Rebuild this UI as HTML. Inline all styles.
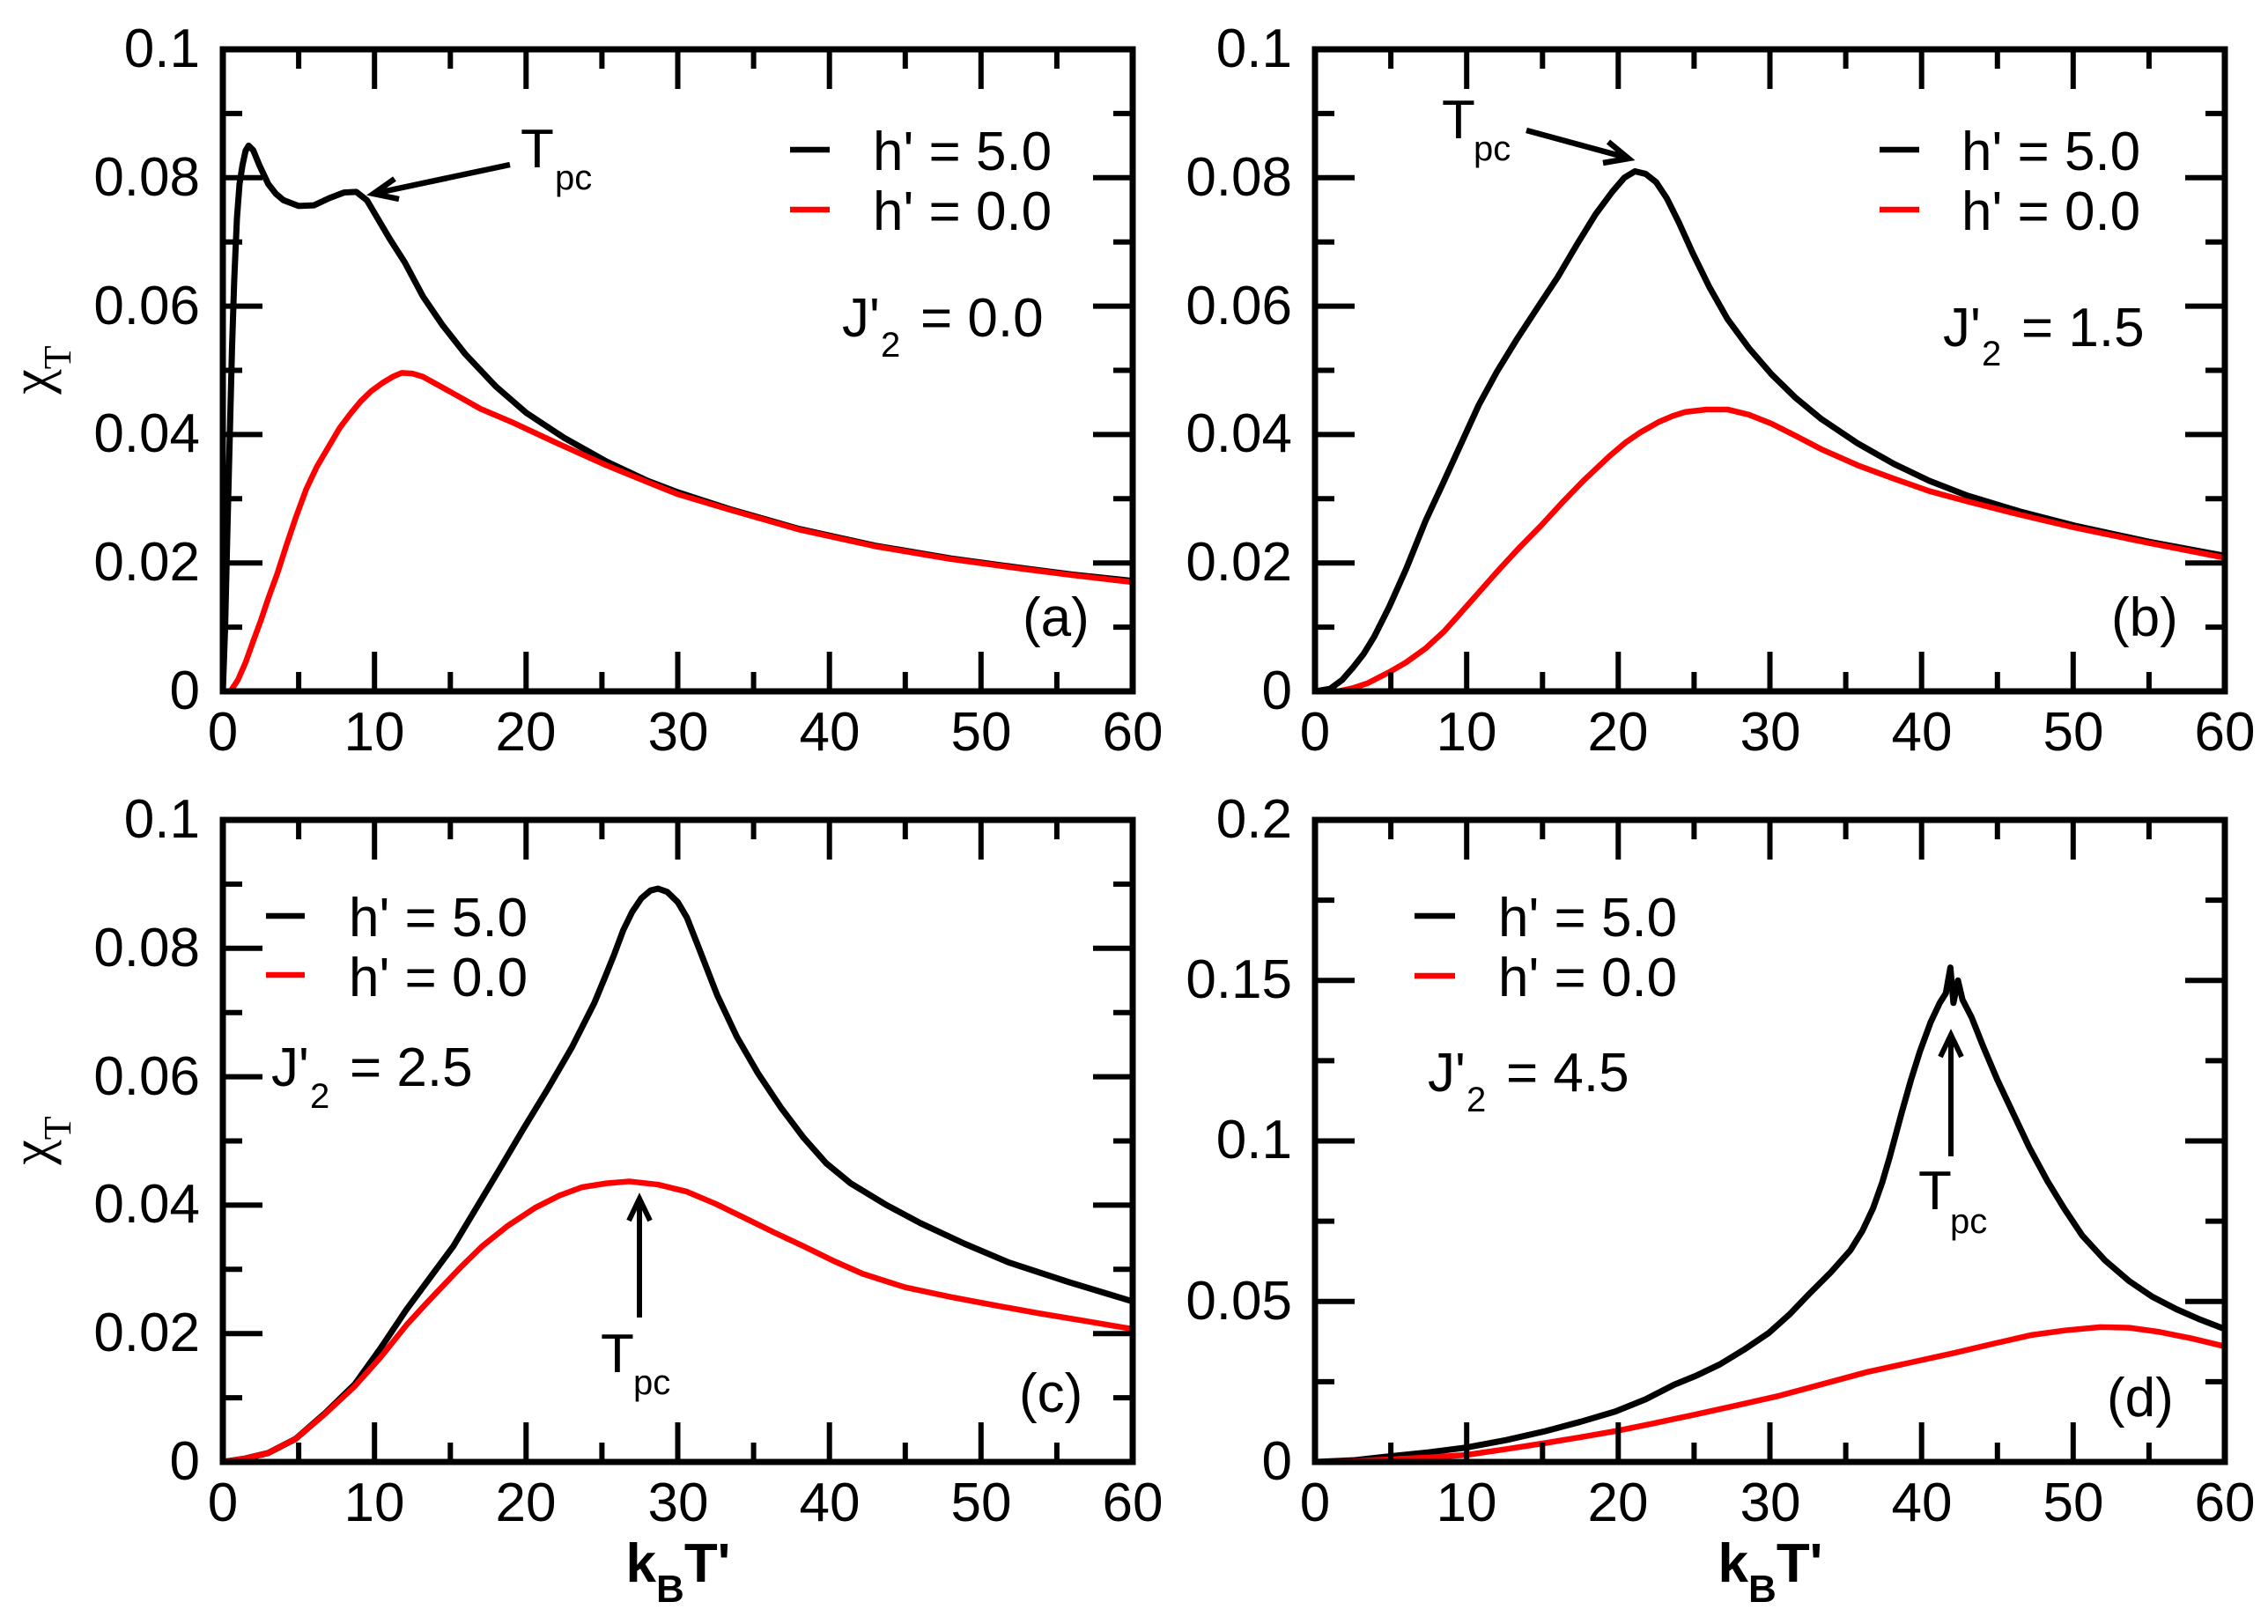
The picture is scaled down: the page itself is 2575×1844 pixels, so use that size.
<!DOCTYPE html>
<html>
<head>
<meta charset="utf-8">
<style>
  html,body{margin:0;padding:0;background:#fff;}
  svg{display:block;}
  text{font-family:"Liberation Sans",Arial,sans-serif;fill:#000;}
</style>
</head>
<body>
<svg xmlns="http://www.w3.org/2000/svg" width="2575" height="1844" viewBox="0 0 2575 1844">
<rect x="0" y="0" width="2575" height="1844" fill="#fff"/>
<defs>
  <clipPath id="cA"><rect x="253" y="56" width="1033" height="729"/></clipPath>
  <clipPath id="cB"><rect x="1493" y="56" width="1033" height="729"/></clipPath>
  <clipPath id="cC"><rect x="253" y="931" width="1033" height="729"/></clipPath>
  <clipPath id="cD"><rect x="1493" y="931" width="1033" height="729"/></clipPath>
  <path id="xt" fill="none" stroke="#000" stroke-width="6" d="M339.1 785V763M425.2 785V740M511.3 785V763M597.3 785V740M683.4 785V763M769.5 785V740M855.6 785V763M941.7 785V740M1027.8 785V763M1113.8 785V740M1199.9 785V763M339.1 56V78M425.2 56V101M511.3 56V78M597.3 56V101M683.4 56V78M769.5 56V101M855.6 56V78M941.7 56V101M1027.8 56V78M1113.8 56V101M1199.9 56V78"/>
  <path id="yt" fill="none" stroke="#000" stroke-width="6" d="M253 712.1H275M253 639.2H298M253 566.3H275M253 493.4H298M253 420.5H275M253 347.6H298M253 274.7H275M253 201.8H298M253 128.9H275M1286 712.1H1264M1286 639.2H1241M1286 566.3H1264M1286 493.4H1241M1286 420.5H1264M1286 347.6H1241M1286 274.7H1264M1286 201.8H1241M1286 128.9H1264"/>
  <path id="ytd" fill="none" stroke="#000" stroke-width="6" d="M253 693.9H275M253 602.75H298M253 511.6H275M253 420.5H298M253 329.4H275M253 238.25H298M253 147.1H275M1286 693.9H1264M1286 602.75H1241M1286 511.6H1264M1286 420.5H1241M1286 329.4H1264M1286 238.25H1241M1286 147.1H1264"/>
</defs>

<!-- ================= CURVES ================= -->
<g fill="none" stroke-linejoin="round" stroke-linecap="round">
  <!-- (a) -->
  <g clip-path="url(#cA)">
    <polyline stroke="#000" stroke-width="7" vector-effect="non-scaling-stroke" transform="translate(253 785) scale(17.217 -7290)"
      points="0,0 0.15,0.01 0.3,0.025 0.46,0.04 0.6,0.053 0.75,0.064 0.93,0.0737 1.1,0.079 1.3,0.082 1.5,0.0842 1.7,0.085 2,0.0843 2.4,0.082 3,0.079 3.5,0.0775 4,0.0765 5,0.0756 6,0.0757 7,0.0768 8,0.0777 8.8,0.0778 9.5,0.0765 10,0.0745 11,0.0705 12,0.0668 13.2,0.0615 14.5,0.057 16,0.0525 18,0.0475 20,0.0434 22.5,0.0395 25.3,0.0358 28,0.0328 30,0.031 33.4,0.0284 38,0.0253 43,0.0227 48,0.0207 53,0.0191 56,0.0182 60,0.0172"/>
    <polyline stroke="#ff0000" stroke-width="6.5" vector-effect="non-scaling-stroke" transform="translate(253 785) scale(17.217 -7290)"
      points="0,0 0.5,0 1,0.0018 1.5,0.0045 2,0.0078 2.5,0.011 3,0.0145 3.6,0.0184 4.2,0.0228 4.8,0.027 5.5,0.0315 6.2,0.035 7,0.0382 7.7,0.041 8.4,0.0432 9.1,0.0452 9.8,0.0468 10.5,0.048 11.2,0.049 11.8,0.0496 12.5,0.0495 13.2,0.049 14.2,0.0477 15.5,0.046 17,0.044 19,0.042 22,0.0387 25.3,0.0352 28,0.0326 30,0.0307 33.4,0.0283 38,0.0252 43,0.0226 48,0.0206 53,0.019 56,0.0181 60,0.017"/>
  </g>
  <!-- (b) -->
  <g clip-path="url(#cB)">
    <polyline stroke="#000" stroke-width="7" vector-effect="non-scaling-stroke" transform="translate(1493 785) scale(17.217 -7290)"
      points="0,0 1,0.0004 1.8,0.0018 2.5,0.0037 3.2,0.0058 3.9,0.0085 4.9,0.0132 6,0.019 7.3,0.0266 8.5,0.0327 9.6,0.0384 10.8,0.0446 12,0.0498 13.3,0.0548 14.6,0.0595 16,0.0645 17.3,0.0697 18.5,0.0743 19.6,0.0778 20.4,0.08 21.1,0.081 21.8,0.0806 22.5,0.0793 23.2,0.0768 24,0.073 24.9,0.0683 26,0.063 27.2,0.058 28.6,0.0535 30.1,0.0494 31.7,0.0457 33.4,0.0424 35.8,0.0386 38.2,0.0354 40.5,0.0328 43,0.0305 46.5,0.028 50.1,0.0258 55,0.0233 60,0.0211"/>
    <polyline stroke="#ff0000" stroke-width="6.5" vector-effect="non-scaling-stroke" transform="translate(1493 785) scale(17.217 -7290)"
      points="0,0 1.5,0 2.5,0.0005 3.5,0.0013 4.9,0.003 6,0.0045 7.3,0.0067 8.5,0.0093 9.6,0.0122 10.8,0.0154 12,0.0186 13.4,0.0222 14.9,0.0258 16.3,0.0294 17.7,0.0328 19.4,0.0366 20.5,0.0388 21.5,0.0404 22.7,0.042 23.6,0.0429 24.4,0.0435 25.8,0.0439 27.2,0.0439 28.6,0.0431 30.1,0.0417 31.7,0.0398 33.4,0.0377 35.8,0.0352 38.2,0.0331 40.5,0.0312 43,0.0296 46.5,0.0275 50.1,0.0255 55,0.0231 60,0.0208"/>
  </g>
  <!-- (c) -->
  <g clip-path="url(#cC)">
    <polyline stroke="#000" stroke-width="7" vector-effect="non-scaling-stroke" transform="translate(253 1660) scale(17.217 -7290)"
      points="0,0 1.4,0.0005 3,0.0014 4.8,0.0036 6.7,0.0075 8.7,0.0121 10.4,0.0177 12.1,0.0237 13.6,0.0285 15.2,0.0336 16.7,0.0395 18.3,0.0458 19.8,0.0518 21.4,0.058 23,0.0645 24.5,0.0715 25.2,0.0755 25.8,0.079 26.4,0.0828 27,0.0857 27.6,0.0878 28.2,0.089 28.7,0.0893 29.3,0.0888 30,0.0872 30.6,0.0848 31.4,0.08 32.6,0.0727 33.9,0.0662 35.3,0.0605 36.8,0.0552 38.3,0.0505 39.8,0.0465 41.4,0.0434 43.7,0.0401 46,0.0372 48.9,0.034 51.8,0.0311 55.8,0.028 60,0.025"/>
    <polyline stroke="#ff0000" stroke-width="6.5" vector-effect="non-scaling-stroke" transform="translate(253 1660) scale(17.217 -7290)"
      points="0,0 1.4,0.0005 3,0.0014 4.8,0.0036 6.7,0.0074 8.7,0.0118 10.4,0.0163 12.1,0.0213 13.3,0.0244 14.5,0.0274 15.8,0.0306 17.1,0.0336 18.8,0.0368 20.6,0.0396 22.2,0.0415 23.7,0.0428 25.3,0.0434 26.8,0.0437 28.7,0.0432 30.6,0.0421 32.5,0.0402 34.5,0.0379 36.4,0.0357 38.3,0.0336 40.2,0.0314 42.2,0.0293 45,0.0272 48,0.0257 50.9,0.0244 53.7,0.0232 57,0.0219 60,0.0207"/>
  </g>
  <!-- (d) -->
  <g clip-path="url(#cD)">
    <polyline stroke="#000" stroke-width="7" vector-effect="non-scaling-stroke" transform="translate(1493 1660) scale(17.217 -3645)"
      points="0,0 2.5,0.0005 4.8,0.0017 7.5,0.003 10,0.0045 12.6,0.0068 15.2,0.0096 17.5,0.0125 19.8,0.0157 21.8,0.0195 23.7,0.0241 25.2,0.027 26.7,0.0304 28.3,0.035 29.9,0.0401 31.3,0.046 32.6,0.0524 34,0.059 35.3,0.0659 36.1,0.072 36.8,0.079 37.4,0.087 37.9,0.095 38.3,0.102 38.7,0.109 39.3,0.119 39.9,0.128 40.6,0.137 41.2,0.143 41.6,0.146 41.9,0.154 42.1,0.143 42.4,0.15 42.7,0.144 43.3,0.1385 44.1,0.129 45,0.119 46,0.109 47.1,0.098 48.3,0.0875 49.4,0.079 50.6,0.0705 52.1,0.0628 53.7,0.0563 55.2,0.0515 56.8,0.0476 58.4,0.0443 60,0.0414"/>
    <polyline stroke="#ff0000" stroke-width="6.5" vector-effect="non-scaling-stroke" transform="translate(1493 1660) scale(17.217 -3645)"
      points="0,0 2.5,0.0002 4.8,0.0008 7.5,0.0014 10,0.0022 12.6,0.004 15.2,0.0059 17.5,0.0077 19.8,0.0096 22.3,0.012 24.8,0.0145 27.7,0.0175 30.6,0.0206 33.5,0.0243 36.4,0.028 39.3,0.031 42.2,0.034 44.7,0.0368 47.2,0.0395 49.5,0.041 51.8,0.042 53.7,0.0418 55.7,0.0405 57.8,0.0385 60,0.036"/>
  </g>
</g>

<!-- ================= FRAMES & TICKS ================= -->
<g fill="none" stroke="#000" stroke-width="7">
  <rect x="253" y="56" width="1033" height="729"/>
  <rect x="1493" y="56" width="1033" height="729"/>
  <rect x="253" y="931" width="1033" height="729"/>
  <rect x="1493" y="931" width="1033" height="729"/>
</g>
<use href="#xt"/><use href="#yt"/>
<use href="#xt" transform="translate(1240 0)"/><use href="#yt" transform="translate(1240 0)"/>
<use href="#xt" transform="translate(0 875)"/><use href="#yt" transform="translate(0 875)"/>
<use href="#xt" transform="translate(1240 875)"/><use href="#ytd" transform="translate(1240 875)"/>

<!-- ================= TICK LABELS ================= -->
<g font-size="62" text-anchor="end">
  <text x="227" y="805">0</text><text x="227" y="659">0.02</text><text x="227" y="513">0.04</text><text x="227" y="368">0.06</text><text x="227" y="222">0.08</text><text x="227" y="76">0.1</text>
  <text x="1467" y="805">0</text><text x="1467" y="659">0.02</text><text x="1467" y="513">0.04</text><text x="1467" y="368">0.06</text><text x="1467" y="222">0.08</text><text x="1467" y="76">0.1</text>
  <text x="227" y="1680">0</text><text x="227" y="1534">0.02</text><text x="227" y="1388">0.04</text><text x="227" y="1243">0.06</text><text x="227" y="1097">0.08</text><text x="227" y="951">0.1</text>
  <text x="1467" y="1680">0</text><text x="1467" y="1498">0.05</text><text x="1467" y="1315">0.1</text><text x="1467" y="1133">0.15</text><text x="1467" y="951">0.2</text>
</g>
<g font-size="62" text-anchor="middle">
  <text x="253" y="852">0</text><text x="425" y="852">10</text><text x="597" y="852">20</text><text x="770" y="852">30</text><text x="942" y="852">40</text><text x="1114" y="852">50</text><text x="1286" y="852">60</text>
  <text x="1493" y="852">0</text><text x="1665" y="852">10</text><text x="1837" y="852">20</text><text x="2010" y="852">30</text><text x="2182" y="852">40</text><text x="2354" y="852">50</text><text x="2526" y="852">60</text>
  <text x="253" y="1727">0</text><text x="425" y="1727">10</text><text x="597" y="1727">20</text><text x="770" y="1727">30</text><text x="942" y="1727">40</text><text x="1114" y="1727">50</text><text x="1286" y="1727">60</text>
  <text x="1493" y="1727">0</text><text x="1665" y="1727">10</text><text x="1837" y="1727">20</text><text x="2010" y="1727">30</text><text x="2182" y="1727">40</text><text x="2354" y="1727">50</text><text x="2526" y="1727">60</text>
</g>

<!-- ================= AXIS TITLES ================= -->
<text transform="translate(56 420) rotate(-90)" text-anchor="middle" font-size="64" style="font-family:'Liberation Serif','DejaVu Serif',serif">χ<tspan font-size="44" dy="24">T</tspan></text>
<text transform="translate(56 1295) rotate(-90)" text-anchor="middle" font-size="64" style="font-family:'Liberation Serif','DejaVu Serif',serif">χ<tspan font-size="44" dy="24">T</tspan></text>
<text x="770" y="1796" text-anchor="middle" font-size="62" font-weight="bold">k<tspan font-size="44" dy="23">B</tspan><tspan dy="-23">T'</tspan></text>
<text x="2010" y="1796" text-anchor="middle" font-size="62" font-weight="bold">k<tspan font-size="44" dy="23">B</tspan><tspan dy="-23">T'</tspan></text>

<!-- ================= LEGENDS ================= -->
<g stroke-width="6.5">
  <line x1="897" y1="170" x2="942" y2="170" stroke="#000"/>
  <line x1="897" y1="238" x2="942" y2="238" stroke="#ff0000"/>
  <line x1="2134" y1="170" x2="2179" y2="170" stroke="#000"/>
  <line x1="2134" y1="238" x2="2179" y2="238" stroke="#ff0000"/>
  <line x1="302" y1="1040" x2="346" y2="1040" stroke="#000"/>
  <line x1="302" y1="1107" x2="346" y2="1107" stroke="#ff0000"/>
  <line x1="1606" y1="1040" x2="1652" y2="1040" stroke="#000"/>
  <line x1="1606" y1="1108" x2="1652" y2="1108" stroke="#ff0000"/>
</g>
<g font-size="62">
  <text x="991" y="193">h' = 5.0</text><text x="991" y="261">h' = 0.0</text>
  <text x="2227" y="193">h' = 5.0</text><text x="2227" y="261">h' = 0.0</text>
  <text x="396" y="1063">h' = 5.0</text><text x="396" y="1131">h' = 0.0</text>
  <text x="1701" y="1063">h' = 5.0</text><text x="1701" y="1131">h' = 0.0</text>
</g>

<!-- ================= J'2 LABELS ================= -->
<g font-size="62">
  <text x="956" y="382">J'</text><text x="1000" y="405" font-size="40">2</text><text x="1045" y="382">= 0.0</text>
  <text x="2206" y="393">J'</text><text x="2250" y="415" font-size="40">2</text><text x="2295" y="393">= 1.5</text>
  <text x="308" y="1233">J'</text><text x="352" y="1258" font-size="40">2</text><text x="397" y="1233">= 2.5</text>
  <text x="1621" y="1239">J'</text><text x="1665" y="1262" font-size="40">2</text><text x="1710" y="1239">= 4.5</text>
</g>

<!-- ================= Tpc ANNOTATIONS ================= -->
<g font-size="62">
  <text x="591" y="190">T</text><text x="630" y="215" font-size="40">pc</text>
  <text x="1637" y="157">T</text><text x="1673" y="182" font-size="40">pc</text>
  <text x="682" y="1558">T</text><text x="719" y="1583" font-size="40">pc</text>
  <text x="2178" y="1373">T</text><text x="2214" y="1400" font-size="40">pc</text>
</g>
<g fill="none" stroke="#000" stroke-linecap="butt" stroke-linejoin="miter">
  <line x1="579" y1="187" x2="426" y2="219.5" stroke-width="6.5"/>
  <polyline points="448,203 424,220 453,226" stroke-width="6.5"/>
  <line x1="1733" y1="148" x2="1847" y2="179" stroke-width="6.5"/>
  <polyline points="1826,161 1849,180 1820,185" stroke-width="6.5"/>
  <line x1="726" y1="1496" x2="726" y2="1363" stroke-width="6"/>
  <polyline points="714,1386 726,1361 738,1386" stroke-width="6"/>
  <line x1="2215" y1="1313" x2="2215" y2="1177" stroke-width="6"/>
  <polyline points="2203,1200 2215,1175 2227,1200" stroke-width="6"/>
</g>

<!-- ================= PANEL LABELS ================= -->
<g font-size="62">
  <text x="1161" y="722">(a)</text>
  <text x="2397" y="722">(b)</text>
  <text x="1157" y="1603">(c)</text>
  <text x="2392" y="1608">(d)</text>
</g>
</svg>
</body>
</html>
